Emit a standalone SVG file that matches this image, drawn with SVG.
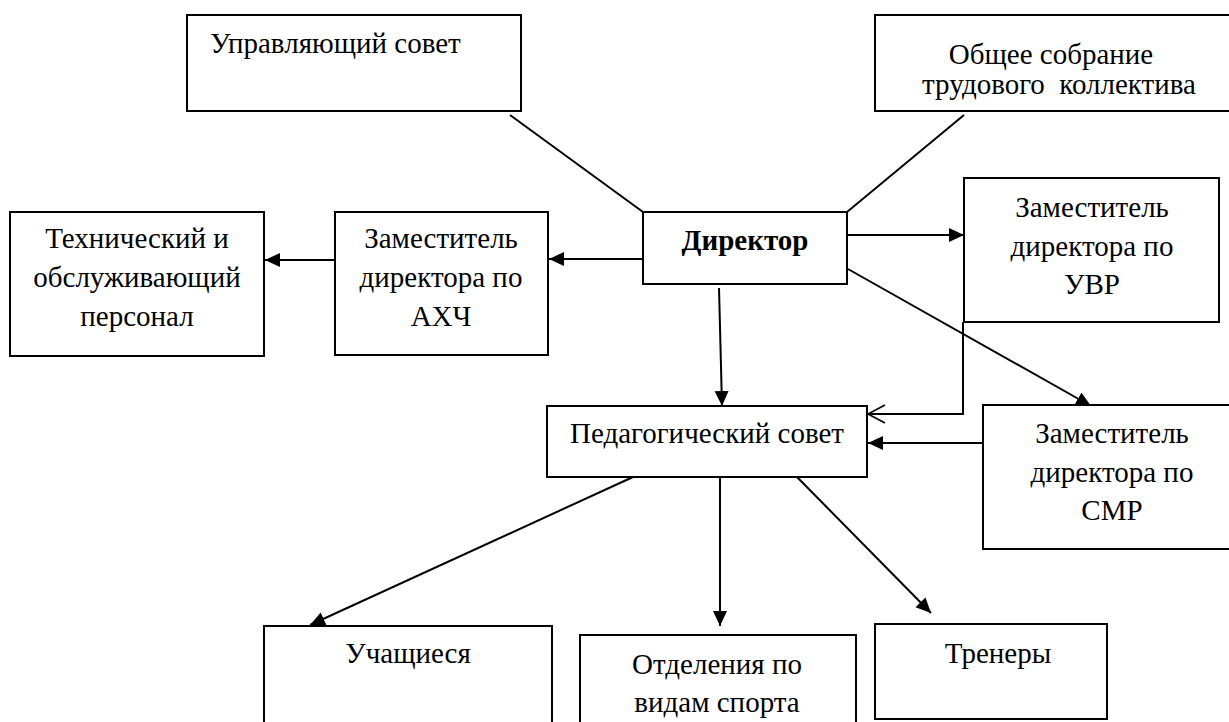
<svg xmlns="http://www.w3.org/2000/svg" width="1229" height="722" viewBox="0 0 1229 722">
<defs>
<style>
.box{fill:#fff;stroke:#000;stroke-width:2}
.t{font-family:"Liberation Serif","Times New Roman",serif;font-size:29px;fill:#000;text-anchor:middle}
.tl{text-anchor:start}
.b{font-weight:bold}
.c{fill:none;stroke:#000;stroke-width:2}
</style>
<marker id="arr" markerUnits="userSpaceOnUse" markerWidth="16" markerHeight="15" refX="15" refY="7" orient="auto"><path d="M0,0 L15,7 L0,14 z" fill="#000"/></marker>
<marker id="open" markerUnits="userSpaceOnUse" markerWidth="20" markerHeight="22" refX="18" refY="10" orient="auto"><path d="M1,1 L18,10 L1,19" fill="none" stroke="#000" stroke-width="1.6"/></marker>
</defs>
<rect width="1229" height="722" fill="#fff"/>
<g id="connectors">
<line class="c" x1="510" y1="115" x2="643" y2="212"/>
<line class="c" x1="964" y1="115" x2="847" y2="212"/>
<line class="c" x1="643" y1="259" x2="549" y2="259" marker-end="url(#arr)"/>
<line class="c" x1="335" y1="260" x2="265" y2="260" marker-end="url(#arr)"/>
<line class="c" x1="847" y1="235" x2="964" y2="235" marker-end="url(#arr)"/>
<line class="c" x1="848" y1="269" x2="1091" y2="406" marker-end="url(#arr)"/>
<line class="c" x1="719" y1="288" x2="722" y2="406" marker-end="url(#arr)"/>
<polyline class="c" points="963,322 963,414 868,414" marker-end="url(#open)"/>
<line class="c" x1="983" y1="443" x2="868" y2="443" marker-end="url(#arr)"/>
<line class="c" x1="633" y1="477" x2="310" y2="625" marker-end="url(#arr)"/>
<line class="c" x1="720" y1="477" x2="720" y2="626" marker-end="url(#arr)"/>
<line class="c" x1="797" y1="477" x2="931" y2="613" marker-end="url(#arr)"/>
</g>
<g id="n-upr"><rect class="box" x="187" y="15" width="334" height="96"/><text class="t tl" x="210" y="53">Управляющий совет</text></g>
<g id="n-obsh"><rect class="box" x="875" y="15" width="360" height="96"/><text class="t" x="1051" y="64">Общее собрание</text><text class="t" x="1059" y="94" xml:space="preserve">трудового  коллектива</text></g>
<g id="n-tech"><rect class="box" x="10" y="212" width="254" height="144"/><text class="t" x="137" y="248">Технический и</text><text class="t" x="137" y="287">обслуживающий</text><text class="t" x="137" y="326">персонал</text></g>
<g id="n-ahch"><rect class="box" x="335" y="212" width="213" height="143"/><text class="t" x="441" y="248">Заместитель</text><text class="t" x="441" y="287">директора по</text><text class="t" x="441" y="326">АХЧ</text></g>
<g id="n-dir"><rect class="box" x="643" y="212" width="204" height="72"/><text class="t b" x="745" y="250">Директор</text></g>
<g id="n-uvr"><rect class="box" x="964" y="178" width="255" height="144"/><text class="t" x="1092" y="217">Заместитель</text><text class="t" x="1092" y="256">директора по</text><text class="t" x="1092" y="294">УВР</text></g>
<g id="n-ped"><rect class="box" x="547" y="406" width="320" height="71"/><text class="t" x="707" y="443">Педагогический совет</text></g>
<g id="n-smr"><rect class="box" x="983" y="405" width="250" height="144"/><text class="t" x="1112" y="443">Заместитель</text><text class="t" x="1112" y="482">директора по</text><text class="t" x="1112" y="520">СМР</text></g>
<g id="n-uch"><rect class="box" x="264" y="626" width="288" height="110"/><text class="t" x="408" y="663">Учащиеся</text></g>
<g id="n-otd"><rect class="box" x="580" y="635" width="276" height="100"/><text class="t" x="717" y="674">Отделения по</text><text class="t" x="717" y="712">видам спорта</text></g>
<g id="n-tren"><rect class="box" x="875" y="624" width="232" height="95"/><text class="t" x="998" y="663">Тренеры</text></g>
</svg>
